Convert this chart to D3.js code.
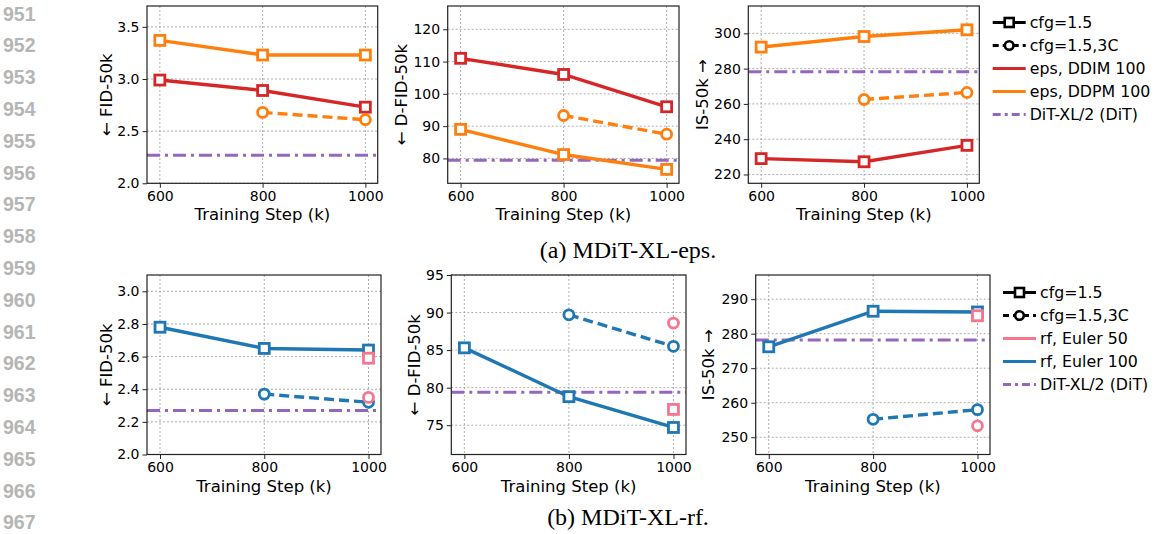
<!DOCTYPE html>
<html>
<head>
<meta charset="utf-8">
<script src="https://cdn.jsdelivr.net/npm/d3@7"></script>
<style>
  body { margin: 0; background: #fff; }
  svg { display: block; }
  text { font-family: "DejaVu Sans", sans-serif; }
</style>
</head>
<body>
<svg width="1160" height="534"></svg>
<script>
// training steps (k)
var steps = [600, 800, 1000];
var stepsC = [800, 1000];
var stepLast = [1000];
var xTicks = [600, 800, 1000];

// (a) eps models
var epsDdimFid = [2.99, 2.89, 2.73];
var epsDdpmFid = [3.37, 3.23, 3.23];
var epsDdpmFidC = [2.68, 2.61];
var epsDdimDfid = [111.0, 106.0, 96.0];
var epsDdpmDfid = [89.0, 81.2, 76.6];
var epsDdpmDfidC = [93.3, 87.5];
var epsDdimIs = [229.0, 227.2, 236.5];
var epsDdpmIs = [292.2, 298.2, 302.0];
var epsDdpmIsC = [262.5, 266.5];

// (b) rf models
var rf100Fid = [2.78, 2.65, 2.64];
var rf100FidC = [2.37, 2.32];
var rf50Fid = [2.59];
var rf50FidC = [2.35];
var rf100Dfid = [85.3, 78.8, 74.7];
var rf100DfidC = [89.7, 85.5];
var rf50Dfid = [77.1];
var rf50DfidC = [88.6];
var rf100Is = [276.2, 286.5, 286.3];
var rf100IsC = [255.2, 258.0];
var rf50Is = [285.2];
var rf50IsC = [253.3];

// DiT-XL/2 reference values
var ditFid = 2.27, ditDfid = 79.4, ditIs = 278.2;

var ticksFidA = [2.0, 2.5, 3.0, 3.5];
var ticksDfidA = [80, 90, 100, 110, 120];
var ticksIsA = [220, 240, 260, 280, 300];
var ticksFidB = [2.0, 2.2, 2.4, 2.6, 2.8, 3.0];
var ticksDfidB = [75, 80, 85, 90, 95];
var ticksIsB = [250, 260, 270, 280, 290];

var RED = "#d62728", ORANGE = "#ff7f0e", PURPLE = "#9467bd", BLUE = "#1f77b4", PINK = "#f7768e";

var svg = d3.select("svg");

// line numbers on the left margin
d3.range(951, 968).forEach(function(n, i) {
  svg.append("text").attr("x", 3).attr("y", 20.5 + i * 31.8)
    .style("font-family", "'Liberation Sans', Arial, sans-serif")
    .style("font-weight", "bold").style("font-size", "19.5px")
    .style("fill", "#b5b5b5").text(n);
});

function panel(o) {
  var g = svg.append("g");
  var x = d3.scaleLinear().domain([575, 1024]).range([o.l, o.r]);
  var y = d3.scaleLinear().domain(o.yd).range([o.b, o.t]);

  // grid
  g.selectAll(".gx").data(xTicks).enter().append("line")
    .attr("x1", x).attr("x2", x).attr("y1", o.t).attr("y2", o.b)
    .style("stroke", "#999").style("stroke-width", 0.8).style("stroke-dasharray", "2,2");
  g.selectAll(".gy").data(o.yt).enter().append("line")
    .attr("y1", y).attr("y2", y).attr("x1", o.l).attr("x2", o.r)
    .style("stroke", "#999").style("stroke-width", 0.8).style("stroke-dasharray", "2,2");

  // axes
  var ax = g.append("g").attr("transform", "translate(0," + o.b + ")")
    .call(d3.axisBottom(x).tickValues(xTicks).tickSize(4.5).tickPadding(3).tickFormat(d3.format("d")));
  var ay = g.append("g").attr("transform", "translate(" + o.l + ",0)")
    .call(d3.axisLeft(y).tickValues(o.yt).tickSize(4.5).tickPadding(3).tickFormat(d3.format(o.fmt)));
  [ax, ay].forEach(function(a) {
    a.select(".domain").remove();
    a.selectAll("text").style("font-size", "14px").style("fill", "#000")
      .style("font-family", "'DejaVu Sans', sans-serif");
    a.selectAll("line").style("stroke", "#222").style("stroke-width", 1);
  });

  // dit line
  g.append("line").attr("x1", o.l).attr("x2", o.r).attr("y1", y(o.dit)).attr("y2", y(o.dit))
    .style("stroke", PURPLE).style("stroke-width", 3).style("stroke-dasharray", "13,5,3,5");

  o.series.forEach(function(s) {
    var pts = s.xs.map(function(v, i) { return [v, s.vals[i]]; });
    if (pts.length > 1) {
      g.append("path").datum(pts)
        .attr("d", d3.line().x(function(d) { return x(d[0]); }).y(function(d) { return y(d[1]); }))
        .style("fill", "none").style("stroke", s.color).style("stroke-width", 3.4)
        .style("stroke-dasharray", s.dash ? "10,5" : null);
    }
    pts.forEach(function(d) {
      if (s.dash) {
        g.append("circle").attr("cx", x(d[0])).attr("cy", y(d[1])).attr("r", 5)
          .style("fill", "#fff").style("stroke", s.color).style("stroke-width", 2.8);
      } else {
        g.append("rect").attr("x", x(d[0]) - 5).attr("y", y(d[1]) - 5)
          .attr("width", 10).attr("height", 10)
          .style("fill", "#fff").style("stroke", s.color).style("stroke-width", 2.8);
      }
    });
  });

  // frame
  g.append("rect").attr("x", o.l).attr("y", o.t).attr("width", o.r - o.l).attr("height", o.b - o.t)
    .style("fill", "none").style("stroke", "#222").style("stroke-width", 1.2);

  // labels
  g.append("text").attr("x", (o.l + o.r) / 2).attr("y", o.b + 37)
    .attr("text-anchor", "middle").style("font-size", "16.5px").text("Training Step (k)");
  var cy = (o.t + o.b) / 2;
  g.append("text").attr("transform", "translate(" + (o.l - o.lab) + "," + cy + ") rotate(-90)")
    .attr("text-anchor", "middle").attr("dy", "0.35em").style("font-size", "16.5px").text(o.ylabel);
}

var topA = 6, botA = 183.3, topB = 275, botB = 454.5;

panel({ l: 147, r: 377.7, t: topA, b: botA, yd: [2.0, 3.7], yt: ticksFidA, fmt: ".1f", dit: ditFid, lab: 41,
  ylabel: "\u2190  FID-50k",
  series: [
    { xs: steps, vals: epsDdpmFid, color: ORANGE },
    { xs: steps, vals: epsDdimFid, color: RED },
    { xs: stepsC, vals: epsDdpmFidC, color: ORANGE, dash: true }
  ] });
panel({ l: 447.7, r: 679, t: topA, b: botA, yd: [72.3, 127.2], yt: ticksDfidA, fmt: "d", dit: ditDfid, lab: 46,
  ylabel: "\u2190  D-FID-50k",
  series: [
    { xs: steps, vals: epsDdimDfid, color: RED },
    { xs: steps, vals: epsDdpmDfid, color: ORANGE },
    { xs: stepsC, vals: epsDdpmDfidC, color: ORANGE, dash: true }
  ] });
panel({ l: 748.3, r: 979.3, t: topA, b: botA, yd: [215, 315.5], yt: ticksIsA, fmt: "d", dit: ditIs, lab: 46,
  ylabel: "IS-50k \u2192",
  series: [
    { xs: steps, vals: epsDdpmIs, color: ORANGE },
    { xs: steps, vals: epsDdimIs, color: RED },
    { xs: stepsC, vals: epsDdpmIsC, color: ORANGE, dash: true }
  ] });

panel({ l: 147, r: 381, t: topB, b: botB, yd: [2.0, 3.1], yt: ticksFidB, fmt: ".1f", dit: ditFid, lab: 41,
  ylabel: "\u2190  FID-50k",
  series: [
    { xs: steps, vals: rf100Fid, color: BLUE },
    { xs: stepsC, vals: rf100FidC, color: BLUE, dash: true },
    { xs: stepLast, vals: rf50Fid, color: PINK },
    { xs: stepLast, vals: rf50FidC, color: PINK, dash: true }
  ] });
panel({ l: 451.3, r: 686, t: topB, b: botB, yd: [71.1, 95], yt: ticksDfidB, fmt: "d", dit: ditDfid, lab: 37,
  ylabel: "\u2190  D-FID-50k",
  series: [
    { xs: steps, vals: rf100Dfid, color: BLUE },
    { xs: stepsC, vals: rf100DfidC, color: BLUE, dash: true },
    { xs: stepLast, vals: rf50Dfid, color: PINK },
    { xs: stepLast, vals: rf50DfidC, color: PINK, dash: true }
  ] });
panel({ l: 755.7, r: 990, t: topB, b: botB, yd: [245, 297], yt: ticksIsB, fmt: "d", dit: ditIs, lab: 47,
  ylabel: "IS-50k \u2192",
  series: [
    { xs: steps, vals: rf100Is, color: BLUE },
    { xs: stepsC, vals: rf100IsC, color: BLUE, dash: true },
    { xs: stepLast, vals: rf50Is, color: PINK },
    { xs: stepLast, vals: rf50IsC, color: PINK, dash: true }
  ] });

// legends
function legend(x0, y0, items) {
  var g = svg.append("g");
  items.forEach(function(it, i) {
    var yy = y0 + i * 23;
    g.append("line").attr("x1", x0).attr("x2", x0 + 33).attr("y1", yy).attr("y2", yy)
      .style("stroke", it.color).style("stroke-width", it.w || 3)
      .style("stroke-dasharray", it.dash || null);
    if (it.marker === "sq") {
      g.append("rect").attr("x", x0 + 16.5 - 4.5).attr("y", yy - 4.5).attr("width", 9).attr("height", 9)
        .style("fill", "#fff").style("stroke", it.color).style("stroke-width", 2.6);
    } else if (it.marker === "ci") {
      g.append("circle").attr("cx", x0 + 16.5).attr("cy", yy).attr("r", 4.3)
        .style("fill", "#fff").style("stroke", it.color).style("stroke-width", 2.6);
    }
    g.append("text").attr("x", x0 + 37).attr("y", yy).attr("dy", "0.35em")
      .style("font-size", "15.8px").text(it.label);
  });
}
legend(992.7, 22.5, [
  { label: "cfg=1.5", color: "#000", marker: "sq" },
  { label: "cfg=1.5,3C", color: "#000", marker: "ci", dash: "6,4" },
  { label: "eps, DDIM 100", color: RED },
  { label: "eps, DDPM 100", color: ORANGE },
  { label: "DiT-XL/2 (DiT)", color: PURPLE, dash: "8,4,3,4" }
]);
legend(1003, 292.5, [
  { label: "cfg=1.5", color: "#000", marker: "sq" },
  { label: "cfg=1.5,3C", color: "#000", marker: "ci", dash: "6,4" },
  { label: "rf, Euler 50", color: PINK },
  { label: "rf, Euler 100", color: BLUE },
  { label: "DiT-XL/2 (DiT)", color: PURPLE, dash: "8,4,3,4" }
]);

// captions
[["(a) MDiT-XL-eps.", 257.7], ["(b) MDiT-XL-rf.", 525]].forEach(function(c) {
  svg.append("text").attr("x", 628).attr("y", c[1]).attr("text-anchor", "middle")
    .style("font-family", "'Liberation Serif', 'Times New Roman', serif")
    .style("font-size", "24px").text(c[0]);
});
</script>
</body>
</html>
